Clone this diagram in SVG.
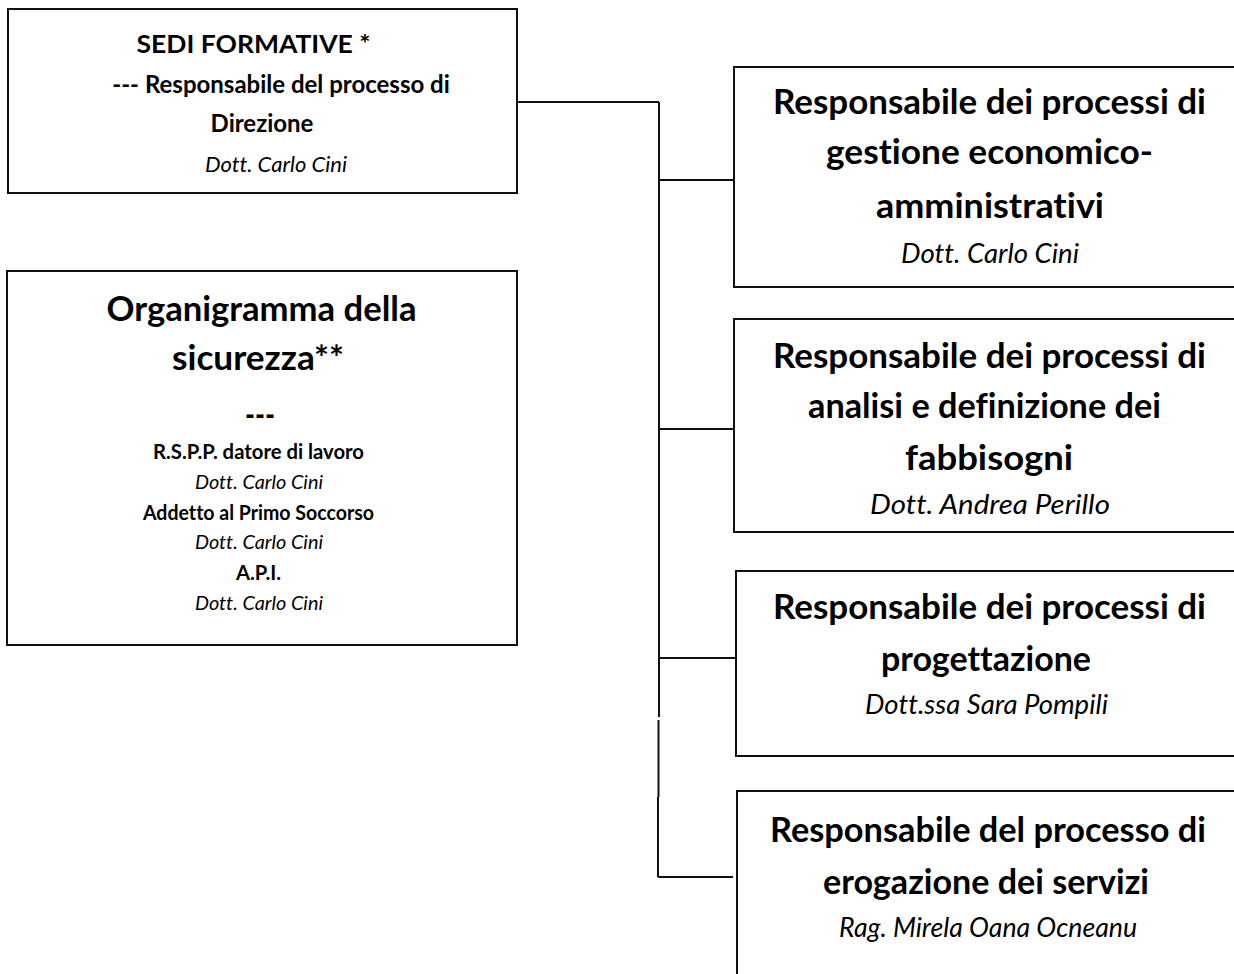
<svg xmlns="http://www.w3.org/2000/svg" width="1234" height="974" viewBox="0 0 1234 974">
<style>
.box{fill:#fff;stroke:#111;stroke-width:2}
.conn{fill:none;stroke:#111;stroke-width:2}
text{font-family:Lato,"Open Sans",sans-serif;fill:#000;text-anchor:middle;font-variant-ligatures:none;font-feature-settings:"liga" 0,"clig" 0}
.b24{font-weight:bold;font-size:24px}
.i24{font-style:italic;font-size:22px}
.t34{font-weight:bold;font-size:34px}
.i27{font-style:italic;font-size:27px}
.s20{font-weight:bold;font-size:20px}
.si20{font-style:italic;font-size:20px}
</style>
<rect width="1234" height="974" fill="#fff"/>
<g id="connectors">
<path class="conn" d="M517 102 H659 M659 102 V717 M658.5 720 V797 M658 797 V877 M659 180 H734 M659 429 H734 M660 658 H736 M658 877 H733"/>
</g>
<g id="sedi">
<rect class="box" x="8" y="9" width="509" height="184"/>
<text class="b24" x="253.5" y="53" textLength="234" lengthAdjust="spacingAndGlyphs">SEDI FORMATIVE *</text>
<text class="b24" x="281" y="93">--- Responsabile del processo di</text>
<text class="b24" x="262" y="132">Direzione</text>
<text class="i24" x="276" y="172">Dott. Carlo Cini</text>
</g>
<g id="sicurezza">
<rect class="box" x="7" y="271" width="510" height="374"/>
<text class="t34" x="261.5" y="321" textLength="310" lengthAdjust="spacingAndGlyphs">Organigramma della</text>
<text class="t34" x="258" y="370" textLength="172" lengthAdjust="spacingAndGlyphs">sicurezza**</text>
<text class="t34" x="260" y="427" textLength="30" lengthAdjust="spacingAndGlyphs">---</text>
<text class="s20" x="258.5" y="459" textLength="211" lengthAdjust="spacingAndGlyphs">R.S.P.P. datore di lavoro</text>
<text class="si20" x="259" y="489" textLength="128" lengthAdjust="spacingAndGlyphs">Dott. Carlo Cini</text>
<text class="s20" x="258.5" y="520" textLength="231" lengthAdjust="spacingAndGlyphs">Addetto al Primo Soccorso</text>
<text class="si20" x="259" y="549" textLength="128" lengthAdjust="spacingAndGlyphs">Dott. Carlo Cini</text>
<text class="s20" x="258.5" y="580" textLength="45" lengthAdjust="spacingAndGlyphs">A.P.I.</text>
<text class="si20" x="259" y="610" textLength="128" lengthAdjust="spacingAndGlyphs">Dott. Carlo Cini</text>
</g>
<g id="economico">
<rect class="box" x="734" y="67" width="510" height="220"/>
<text class="t34" x="989.5" y="114" textLength="433" lengthAdjust="spacingAndGlyphs">Responsabile dei processi di</text>
<text class="t34" x="989.5" y="164" textLength="327" lengthAdjust="spacingAndGlyphs">gestione economico-</text>
<text class="t34" x="990" y="218" textLength="228" lengthAdjust="spacingAndGlyphs">amministrativi</text>
<text class="i27" x="990" y="263" textLength="178" lengthAdjust="spacingAndGlyphs">Dott. Carlo Cini</text>
</g>
<g id="fabbisogni">
<rect class="box" x="734" y="319" width="510" height="213"/>
<text class="t34" x="989.5" y="368" textLength="433" lengthAdjust="spacingAndGlyphs">Responsabile dei processi di</text>
<text class="t34" x="984.5" y="418" textLength="353" lengthAdjust="spacingAndGlyphs">analisi e definizione dei</text>
<text class="t34" x="989" y="470" textLength="168" lengthAdjust="spacingAndGlyphs">fabbisogni</text>
<text class="i27" x="990" y="514" textLength="240" lengthAdjust="spacingAndGlyphs">Dott. Andrea Perillo</text>
</g>
<g id="progettazione">
<rect class="box" x="736" y="571" width="510" height="185"/>
<text class="t34" x="989.5" y="619" textLength="433" lengthAdjust="spacingAndGlyphs">Responsabile dei processi di</text>
<text class="t34" x="986" y="671" textLength="210" lengthAdjust="spacingAndGlyphs">progettazione</text>
<text class="i27" x="986.5" y="714" textLength="243" lengthAdjust="spacingAndGlyphs">Dott.ssa Sara Pompili</text>
</g>
<g id="erogazione">
<rect class="box" x="737" y="791" width="510" height="200"/>
<text class="t34" x="988" y="842" textLength="436" lengthAdjust="spacingAndGlyphs">Responsabile del processo di</text>
<text class="t34" x="986" y="894" textLength="326" lengthAdjust="spacingAndGlyphs">erogazione dei servizi</text>
<text class="i27" x="988" y="937" textLength="298" lengthAdjust="spacingAndGlyphs">Rag. Mirela Oana Ocneanu</text>
</g>
</svg>
